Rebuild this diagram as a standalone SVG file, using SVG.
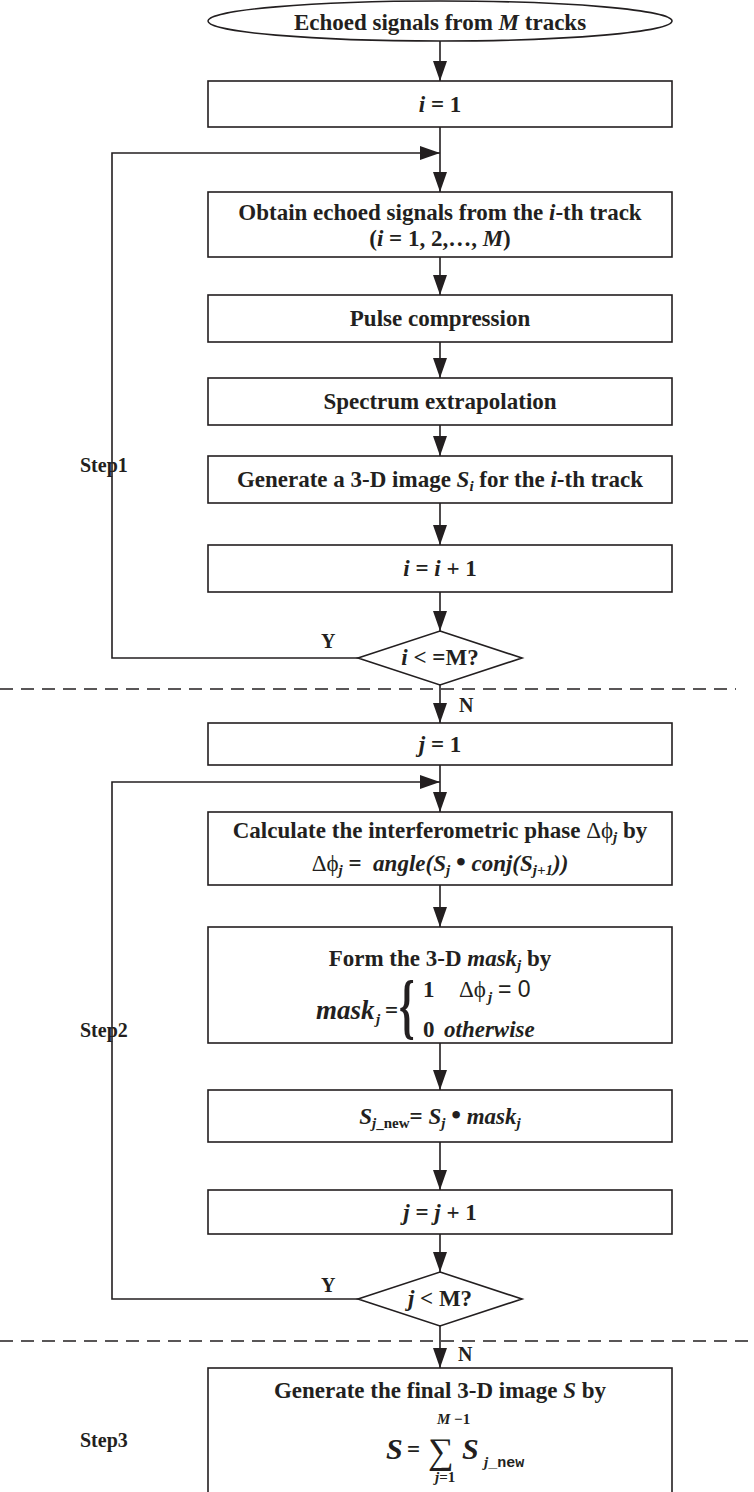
<svg xmlns="http://www.w3.org/2000/svg" width="754" height="1492" viewBox="0 0 754 1492">
<style>
.t{font-family:"Liberation Serif","DejaVu Serif",serif;font-weight:bold;font-size:23px;fill:#231f20;text-anchor:middle}
.s{text-anchor:start}
.i{font-style:italic}
.sub{font-size:15px}
.g{font-weight:normal}
.sans{font-family:"Liberation Sans",Arial,sans-serif;font-weight:normal}
.mono{font-family:"Liberation Mono",monospace;font-weight:bold}
.dot{font-size:28px}
.lbl{font-size:20px;text-anchor:start}
.box{fill:#fff;stroke:#231f20;stroke-width:1.6}
.edge{fill:none;stroke:#231f20;stroke-width:1.6}
.dash{fill:none;stroke:#231f20;stroke-width:1.5;stroke-dasharray:13 8}
</style>
<defs>
<marker id="ah" markerUnits="userSpaceOnUse" markerWidth="20" markerHeight="14" refX="20" refY="7" orient="auto">
<path d="M0,0 L20,7 L0,14 z" fill="#231f20"/>
</marker>
</defs>
<rect width="754" height="1492" fill="#fff"/>

<g id="connectors">
<line class="edge" x1="440" y1="41" x2="440" y2="81" marker-end="url(#ah)"/>
<line class="edge" x1="440" y1="127" x2="440" y2="192" marker-end="url(#ah)"/>
<polyline class="edge" points="358,658 112,658 112,153 440,153" marker-end="url(#ah)"/>
<line class="edge" x1="440" y1="257" x2="440" y2="295" marker-end="url(#ah)"/>
<line class="edge" x1="440" y1="342" x2="440" y2="378" marker-end="url(#ah)"/>
<line class="edge" x1="440" y1="425" x2="440" y2="456" marker-end="url(#ah)"/>
<line class="edge" x1="440" y1="503" x2="440" y2="545" marker-end="url(#ah)"/>
<line class="edge" x1="440" y1="592" x2="440" y2="631" marker-end="url(#ah)"/>
<line class="edge" x1="440" y1="685" x2="440" y2="723" marker-end="url(#ah)"/>
<line class="edge" x1="440" y1="765" x2="440" y2="812" marker-end="url(#ah)"/>
<polyline class="edge" points="358,1299 112,1299 112,782 440,782" marker-end="url(#ah)"/>
<line class="edge" x1="440" y1="885" x2="440" y2="927" marker-end="url(#ah)"/>
<line class="edge" x1="440" y1="1043" x2="440" y2="1090" marker-end="url(#ah)"/>
<line class="edge" x1="440" y1="1142" x2="440" y2="1190" marker-end="url(#ah)"/>
<line class="edge" x1="440" y1="1234" x2="440" y2="1272" marker-end="url(#ah)"/>
<line class="edge" x1="440" y1="1326" x2="440" y2="1368" marker-end="url(#ah)"/>
</g>

<g id="separators">
<line class="dash" x1="0" y1="689" x2="736" y2="689"/>
<line class="dash" x1="0" y1="1341" x2="754" y2="1341"/>
</g>

<g id="labels">
<text class="t lbl" x="80" y="472">Step1</text>
<text class="t lbl" x="80" y="1037">Step2</text>
<text class="t lbl" x="80" y="1447">Step3</text>
<text class="t lbl" x="321" y="648">Y</text>
<text class="t lbl" x="459" y="712">N</text>
<text class="t lbl" x="321" y="1292">Y</text>
<text class="t lbl" x="458" y="1361">N</text>
</g>

<g id="start">
<ellipse class="box" cx="440" cy="21" rx="232" ry="20"/>
<text class="t" x="440" y="30">Echoed signals from <tspan class="i">M</tspan> tracks</text>
</g>

<g id="init_i">
<rect class="box" x="208" y="81" width="464" height="46"/>
<text class="t" x="440" y="112"><tspan class="i">i</tspan> = 1</text>
</g>

<g id="obtain">
<rect class="box" x="208" y="192" width="464" height="65"/>
<text class="t" x="440" y="220">Obtain echoed signals from the <tspan class="i">i</tspan>-th track</text>
<text class="t" x="440" y="246">(<tspan class="i">i</tspan> = 1, 2,…, <tspan class="i">M</tspan>)</text>
</g>

<g id="pulse">
<rect class="box" x="208" y="295" width="464" height="47"/>
<text class="t" x="440" y="326">Pulse compression</text>
</g>

<g id="spectrum">
<rect class="box" x="208" y="378" width="464" height="47"/>
<text class="t" x="440" y="409">Spectrum extrapolation</text>
</g>

<g id="generate_i">
<rect class="box" x="208" y="456" width="464" height="47"/>
<text class="t" x="440" y="487">Generate a 3-D image <tspan class="i">S</tspan><tspan class="i sub" dy="4">i</tspan><tspan dy="-4"> for the </tspan><tspan class="i">i</tspan>-th track</text>
</g>

<g id="inc_i">
<rect class="box" x="208" y="545" width="464" height="47"/>
<text class="t" x="440" y="576"><tspan class="i">i</tspan> = <tspan class="i">i</tspan> + 1</text>
</g>

<g id="cond_i">
<polygon class="box" points="440,631 522,658 440,685 358,658"/>
<text class="t" x="440" y="665"><tspan class="i">i</tspan> &lt; =M?</text>
</g>

<g id="init_j">
<rect class="box" x="208" y="723" width="464" height="42"/>
<text class="t" x="440" y="752"><tspan class="i">j</tspan> = 1</text>
</g>

<g id="phase">
<rect class="box" x="208" y="812" width="464" height="73"/>
<text class="t" x="440" y="838">Calculate the interferometric phase <tspan class="g">Δϕ</tspan><tspan class="i sub" dy="4">j</tspan><tspan dy="-4"> by</tspan></text>
<text class="t" x="440" y="871"><tspan class="g">Δϕ</tspan><tspan class="i sub" dy="4">j</tspan><tspan dy="-4"> =&#160;&#160;</tspan><tspan class="i">angle(S</tspan><tspan class="i sub" dy="4">j</tspan><tspan dy="-4"> </tspan><tspan class="dot">•</tspan><tspan> </tspan><tspan class="i">conj(S</tspan><tspan class="i sub" dy="4">j+1</tspan><tspan class="i" dy="-4">))</tspan></text>
</g>

<g id="mask">
<rect class="box" x="208" y="927" width="464" height="116"/>
<text class="t" x="440" y="966">Form the 3-D <tspan class="i">mask</tspan><tspan class="i sub" dy="4">j</tspan><tspan dy="-4"> by</tspan></text>
<text class="t s i" x="316" y="1019" style="font-size:27px">mask</text>
<text class="t s i sub" x="376" y="1024">j</text>
<text class="t s" x="385" y="1018">=</text>
<text class="t s" transform="translate(399,1030) scale(0.55,1)" style="font-size:72px;font-weight:bold">{</text>
<text class="t s" x="423" y="997">1</text>
<text class="t s g" x="459" y="997">Δϕ</text>
<text class="t s i sub" x="488" y="1002">j</text>
<text class="t s sans" x="498" y="997">= 0</text>
<text class="t s" x="423" y="1037">0</text>
<text class="t s i" x="444" y="1037">otherwise</text>
</g>

<g id="snew">
<rect class="box" x="208" y="1090" width="464" height="52"/>
<text class="t" x="440" y="1124"><tspan class="i">S</tspan><tspan class="i sub" dy="4">j</tspan><tspan class="sub">_new</tspan><tspan dy="-4">= </tspan><tspan class="i">S</tspan><tspan class="i sub" dy="4">j</tspan><tspan dy="-4"> </tspan><tspan class="dot">•</tspan><tspan> </tspan><tspan class="i">mask</tspan><tspan class="i sub" dy="4">j</tspan></text>
</g>

<g id="inc_j">
<rect class="box" x="208" y="1190" width="464" height="44"/>
<text class="t" x="440" y="1220"><tspan class="i">j</tspan> = <tspan class="i">j</tspan> + 1</text>
</g>

<g id="cond_j">
<polygon class="box" points="440,1272 522,1299 440,1326 358,1299"/>
<text class="t" x="440" y="1306"><tspan class="i">j</tspan> &lt; M?</text>
</g>

<g id="final">
<rect class="box" x="208" y="1368" width="464" height="140"/>
<text class="t" x="440" y="1398">Generate the final 3-D image <tspan class="i">S</tspan> by</text>
<text class="t s sub" x="437" y="1424"><tspan class="i">M</tspan> −1</text>
<text class="t s i" x="386" y="1459" style="font-size:30px">S</text>
<text class="t s" x="407" y="1457">=</text>
<text class="t s g" x="428" y="1463" style="font-size:36px">∑</text>
<text class="t s i" x="462" y="1459" style="font-size:30px">S</text>
<text class="t s sub" x="484" y="1467"><tspan class="i">j</tspan><tspan class="mono">_new</tspan></text>
<text class="t s sub" x="435" y="1482"><tspan class="i">j</tspan>=1</text>
</g>
</svg>
